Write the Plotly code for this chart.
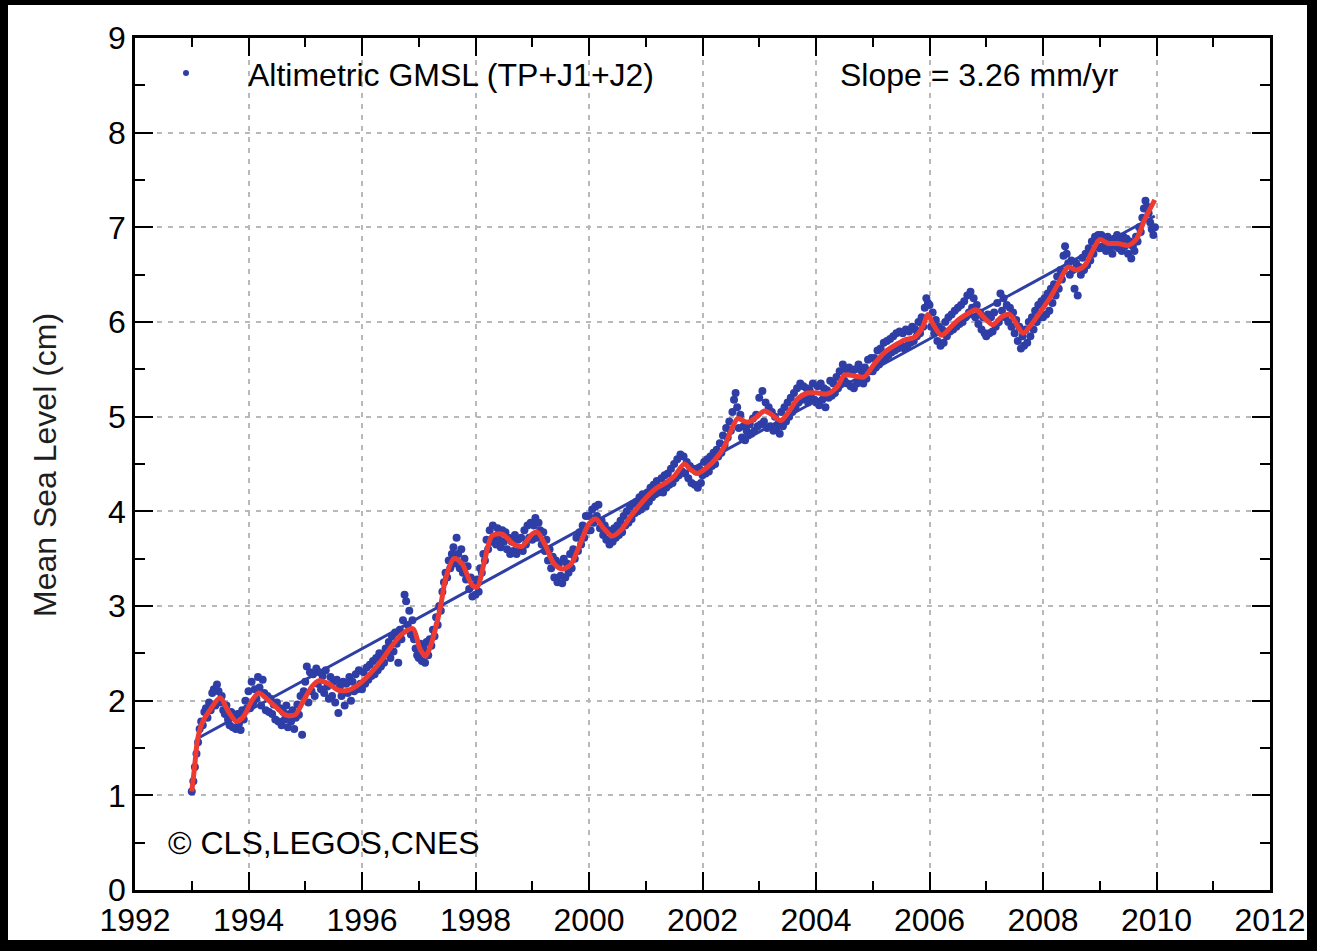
import plotly.graph_objects as go

# ---------------- data ----------------
# Altimetric GMSL, ~10-day values, 36 per year (cm)
gmsl_1993 = [1.04, 1.15, 1.30, 1.44, 1.56, 1.70, 1.78, 1.74, 1.88, 1.92, 1.82, 1.98, 1.90, 2.08, 2.12, 1.95, 2.17, 2.10,
             1.98, 2.05, 1.90, 1.86, 1.95, 1.80, 1.74, 1.88, 1.72, 1.83, 1.70, 1.86, 1.76, 1.69, 1.90, 1.80, 2.00, 1.92]
gmsl_1994 = [2.10, 1.92, 2.20, 1.98, 2.12, 2.02, 2.25, 2.14, 1.95, 2.22, 2.08, 1.90, 2.05, 1.88, 2.02, 1.86, 1.96, 1.80,
             1.98, 1.78, 1.92, 1.74, 1.88, 1.80, 1.95, 1.72, 1.86, 1.78, 1.90, 1.70, 1.82, 1.96, 1.85, 2.05, 1.64, 2.10]
gmsl_1995 = [2.20, 2.36, 1.98, 2.30, 2.10, 2.28, 2.05, 2.34, 2.18, 2.30, 2.12, 2.26, 2.08, 2.32, 2.15, 2.02, 2.25, 2.05,
             2.20, 1.98, 2.22, 1.87, 2.15, 2.05, 2.20, 1.95, 2.18, 2.08, 2.25, 2.00, 2.20, 2.10, 2.28, 2.12, 2.32, 2.18]
gmsl_1996 = [2.12, 2.30, 2.18, 2.35, 2.22, 2.38, 2.26, 2.42, 2.28, 2.45, 2.32, 2.50, 2.36, 2.48, 2.40, 2.55, 2.50, 2.62,
             2.45, 2.68, 2.52, 2.72, 2.60, 2.40, 2.75, 2.65, 2.85, 3.12, 3.05, 2.80, 2.95, 2.70, 2.85, 2.65, 2.55, 2.48]
gmsl_1997 = [2.45, 2.60, 2.42, 2.55, 2.40, 2.62, 2.48, 2.65, 2.58, 2.75, 2.68, 2.88, 2.80, 3.00, 2.95, 3.15, 3.25, 3.35,
             3.30, 3.48, 3.40, 3.55, 3.62, 3.45, 3.72, 3.55, 3.40, 3.60, 3.35, 3.50, 3.28, 3.42, 3.18, 3.30, 3.10, 3.22]
gmsl_1998 = [3.12, 3.28, 3.15, 3.40, 3.35, 3.55, 3.48, 3.70, 3.60, 3.80, 3.68, 3.85, 3.72, 3.65, 3.82, 3.70, 3.62, 3.80,
             3.68, 3.78, 3.60, 3.72, 3.55, 3.68, 3.58, 3.75, 3.55, 3.70, 3.60, 3.72, 3.58, 3.80, 3.65, 3.85, 3.72, 3.88]
gmsl_1999 = [3.70, 3.85, 3.93, 3.72, 3.88, 3.80, 3.65, 3.78, 3.58, 3.70, 3.48, 3.60, 3.40, 3.52, 3.30, 3.48, 3.25, 3.45,
             3.32, 3.24, 3.50, 3.30, 3.45, 3.35, 3.55, 3.40, 3.60, 3.50, 3.72, 3.58, 3.78, 3.65, 3.85, 3.72, 3.95, 3.80]
gmsl_2000 = [3.95, 3.80, 4.02, 3.88, 4.05, 3.95, 4.07, 3.82, 3.90, 3.75, 3.85, 3.70, 3.80, 3.65, 3.78, 3.68, 3.82, 3.72,
             3.85, 3.75, 3.90, 3.78, 3.95, 3.85, 4.00, 3.88, 4.05, 3.92, 4.08, 3.98, 4.10, 4.00, 4.15, 4.02, 4.18, 4.08]
gmsl_2001 = [4.05, 4.20, 4.10, 4.25, 4.15, 4.28, 4.18, 4.32, 4.20, 4.22, 4.35, 4.20, 4.38, 4.25, 4.40, 4.28, 4.45, 4.30,
             4.50, 4.35, 4.55, 4.38, 4.60, 4.42, 4.58, 4.40, 4.52, 4.35, 4.48, 4.30, 4.45, 4.28, 4.42, 4.25, 4.45, 4.30]
gmsl_2002 = [4.38, 4.52, 4.40, 4.55, 4.42, 4.58, 4.48, 4.62, 4.50, 4.65, 4.58, 4.72, 4.62, 4.80, 4.70, 4.88, 4.78, 4.95,
             4.85, 5.05, 5.18, 5.25, 5.10, 4.88, 5.02, 4.78, 4.90, 4.75, 4.85, 4.80, 4.92, 4.82, 4.98, 4.85, 5.02, 4.90]
gmsl_2003 = [5.20, 4.92, 5.27, 4.95, 5.15, 4.88, 5.10, 4.90, 5.05, 4.85, 5.00, 4.88, 4.92, 4.82, 5.05, 4.90, 5.10, 4.95,
             5.15, 5.00, 5.20, 5.05, 5.25, 5.10, 5.30, 5.15, 5.35, 5.18, 5.32, 5.20, 5.30, 5.15, 5.28, 5.20, 5.35, 5.18]
gmsl_2004 = [5.15, 5.32, 5.12, 5.35, 5.18, 5.30, 5.10, 5.28, 5.20, 5.38, 5.22, 5.35, 5.25, 5.42, 5.30, 5.48, 5.35, 5.55,
             5.38, 5.50, 5.35, 5.52, 5.32, 5.48, 5.30, 5.50, 5.35, 5.55, 5.38, 5.48, 5.35, 5.52, 5.40, 5.60, 5.48, 5.62]
gmsl_2005 = [5.48, 5.62, 5.52, 5.70, 5.55, 5.72, 5.60, 5.78, 5.62, 5.80, 5.65, 5.82, 5.68, 5.85, 5.70, 5.88, 5.72, 5.90,
             5.75, 5.88, 5.72, 5.92, 5.75, 5.90, 5.78, 5.95, 5.80, 5.92, 5.85, 6.00, 5.88, 6.05, 5.95, 6.15, 6.25, 6.20]
gmsl_2006 = [6.18, 5.95, 6.10, 5.88, 6.02, 5.80, 5.95, 5.75, 5.92, 5.78, 6.00, 5.85, 6.05, 5.90, 6.08, 5.92, 6.12, 5.95,
             6.15, 5.98, 6.18, 6.00, 6.22, 6.05, 6.28, 6.10, 6.32, 6.15, 6.25, 6.05, 6.18, 5.98, 6.10, 5.92, 6.05, 5.88]
gmsl_2007 = [5.85, 6.08, 5.88, 6.05, 5.90, 6.10, 5.95, 6.20, 6.00, 6.30, 6.12, 6.25, 6.05, 6.18, 6.00, 6.15, 5.95, 6.10,
             5.88, 6.02, 5.80, 5.95, 5.72, 5.85, 5.75, 5.92, 5.78, 6.00, 5.85, 6.05, 5.92, 6.12, 6.00, 6.18, 6.05, 6.22]
gmsl_2008 = [6.05, 6.25, 6.08, 6.30, 6.12, 6.35, 6.20, 6.40, 6.28, 6.48, 6.35, 6.55, 6.45, 6.70, 6.80, 6.72, 6.62, 6.50,
             6.65, 6.55, 6.35, 6.62, 6.28, 6.58, 6.50, 6.68, 6.55, 6.72, 6.60, 6.78, 6.65, 6.85, 6.72, 6.90, 6.80, 6.92]
gmsl_2009 = [6.78, 6.92, 6.80, 6.88, 6.75, 6.90, 6.78, 6.85, 6.72, 6.88, 6.80, 6.92, 6.78, 6.85, 6.75, 6.90, 6.80, 6.88,
             6.72, 6.85, 6.67, 6.80, 6.75, 6.90, 6.85, 7.00, 6.95, 7.10, 7.20, 7.28, 7.22, 7.15, 7.05, 6.98, 6.92, 7.00]

gmsl_years = [1993, 1994, 1995, 1996, 1997, 1998, 1999, 2000, 2001,
              2002, 2003, 2004, 2005, 2006, 2007, 2008, 2009]
gmsl_series = [gmsl_1993, gmsl_1994, gmsl_1995, gmsl_1996, gmsl_1997, gmsl_1998, gmsl_1999, gmsl_2000, gmsl_2001,
               gmsl_2002, gmsl_2003, gmsl_2004, gmsl_2005, gmsl_2006, gmsl_2007, gmsl_2008, gmsl_2009]

# Smoothed curve (red)
smooth_years = [1993.00, 1993.05, 1993.10, 1993.18, 1993.32, 1993.50, 1993.65, 1993.79, 1993.91, 1994.06,
                1994.18, 1994.32, 1994.47, 1994.65, 1994.82, 1994.97, 1995.12, 1995.24, 1995.41, 1995.59,
                1995.76, 1995.94, 1996.12, 1996.35, 1996.53, 1996.70, 1996.90, 1997.02, 1997.12, 1997.22,
                1997.32, 1997.40, 1997.47, 1997.62, 1997.76, 1997.94, 1998.03, 1998.15, 1998.29, 1998.47,
                1998.68, 1998.82, 1999.00, 1999.09, 1999.24, 1999.38, 1999.53, 1999.68, 1999.82, 2000.00,
                2000.12, 2000.26, 2000.41, 2000.56, 2000.74, 2000.97, 2001.18, 2001.35, 2001.50, 2001.68,
                2001.79, 2001.91, 2002.09, 2002.24, 2002.38, 2002.50, 2002.62, 2002.79, 2002.94, 2003.09,
                2003.20, 2003.38, 2003.53, 2003.68, 2003.85, 2004.03, 2004.20, 2004.38, 2004.50, 2004.68,
                2004.85, 2005.03, 2005.21, 2005.38, 2005.56, 2005.74, 2005.88, 2005.97, 2006.06, 2006.21,
                2006.35, 2006.50, 2006.68, 2006.82, 2006.97, 2007.12, 2007.26, 2007.41, 2007.56, 2007.65,
                2007.79, 2007.97, 2008.15, 2008.29, 2008.44, 2008.59, 2008.74, 2008.88, 2009.00, 2009.15,
                2009.32, 2009.50, 2009.65, 2009.79, 2009.97]
smooth_values = [1.04, 1.30, 1.58, 1.76, 1.90, 2.03, 1.88, 1.78, 1.83, 2.00,
                 2.08, 2.02, 1.94, 1.85, 1.85, 2.00, 2.15, 2.21, 2.18, 2.11,
                 2.11, 2.17, 2.27, 2.43, 2.58, 2.70, 2.76, 2.55, 2.47, 2.60,
                 2.82, 3.05, 3.28, 3.50, 3.45, 3.22, 3.20, 3.45, 3.74, 3.76,
                 3.65, 3.63, 3.76, 3.78, 3.63, 3.45, 3.39, 3.44, 3.62, 3.87,
                 3.92, 3.82, 3.74, 3.80, 3.95, 4.12, 4.24, 4.30, 4.37, 4.50,
                 4.44, 4.40, 4.47, 4.56, 4.68, 4.85, 4.98, 4.94, 4.99, 5.06,
                 5.03, 4.96, 5.06, 5.19, 5.25, 5.25, 5.24, 5.32, 5.44, 5.43,
                 5.42, 5.56, 5.68, 5.75, 5.81, 5.84, 5.95, 6.08, 5.98, 5.86,
                 5.93, 6.02, 6.09, 6.13, 6.04, 5.97, 6.05, 6.08, 5.95, 5.88,
                 5.97, 6.12, 6.28, 6.43, 6.58, 6.55, 6.60, 6.76, 6.87, 6.83,
                 6.83, 6.81, 6.88, 7.08, 7.29]

# Linear trend (3.26 mm/yr)
trend_years = [1993.10, 2009.97]
trend_values = [1.60, 7.12]

x_tick_values = [1992, 1994, 1996, 1998, 2000, 2002, 2004, 2006, 2008, 2010, 2012]
y_tick_values = [0, 1, 2, 3, 4, 5, 6, 7, 8, 9]

legend_label = "Altimetric GMSL (TP+J1+J2)"
slope_label = "Slope = 3.26 mm/yr"
credit_label = "CLS,LEGOS,CNES"
y_title = "Mean Sea Level (cm)"

# ---------------- figure ----------------
DOT = "rgb(46,62,166)"
RED = "rgb(238,58,48)"
FONT = "Liberation Sans, Arial, Helvetica, sans-serif"
FS = 32

dot_x, dot_y = [], []
for yr, vals in zip(gmsl_years, gmsl_series):
    n = len(vals)
    for k, v in enumerate(vals):
        dot_x.append(yr + k / n)
        dot_y.append(v)

fig = go.Figure()
fig.add_trace(go.Scatter(x=dot_x, y=dot_y, mode="markers",
                         marker=dict(size=8, color=DOT), showlegend=False))
fig.add_trace(go.Scatter(x=trend_years, y=trend_values, mode="lines",
                         line=dict(color=DOT, width=3), showlegend=False))
fig.add_trace(go.Scatter(x=smooth_years, y=smooth_values, mode="lines",
                         line=dict(color=RED, width=5, shape="spline", smoothing=0.8),
                         showlegend=False))

axis_common = dict(
    showline=True, linecolor="black", linewidth=2.5, mirror="ticks",
    ticks="inside", tickcolor="black", tickwidth=2, ticklen=18,
    showgrid=True, gridcolor="rgb(185,185,185)", gridwidth=1.5, griddash="5px,6px",
    zeroline=False,
    tickfont=dict(family=FONT, size=FS, color="black"),
)

fig.update_xaxes(range=[1992, 2012], tickvals=x_tick_values,
                 ticktext=[str(v) for v in x_tick_values],
                 minor=dict(dtick=1, tick0=1992, ticks="inside", ticklen=9,
                            tickwidth=2, tickcolor="black", showgrid=False),
                 **axis_common)
fig.update_yaxes(range=[0, 9], tickvals=y_tick_values,
                 ticktext=[str(v) for v in y_tick_values],
                 minor=dict(dtick=0.5, tick0=0, ticks="inside", ticklen=10,
                            tickwidth=2, tickcolor="black", showgrid=False),
                 **axis_common)

L, R, T, B = 135, 47, 38, 61
W, H = 1317, 951
pw, ph = W - L - R, H - T - B


def px_x(px):
    return (px - L) / pw


def px_y(py):
    return (H - B - py) / ph


shapes = [
    # white page inside the black frame
    dict(type="rect", xref="paper", yref="paper", layer="below",
         x0=px_x(8), x1=px_x(1307), y0=px_y(940), y1=px_y(5),
         fillcolor="white", line=dict(width=0)),
    # legend key dot
    dict(type="circle", xref="paper", yref="paper",
         x0=px_x(183), x1=px_x(189), y0=px_y(76), y1=px_y(70),
         fillcolor=DOT, line=dict(width=0)),
]

annotations = [
    dict(text=legend_label, xref="paper", yref="paper", x=px_x(246), y=px_y(75),
         xanchor="left", yanchor="middle", showarrow=False,
         font=dict(family=FONT, size=FS, color="black")),
    dict(text=slope_label, xref="paper", yref="paper", x=px_x(838), y=px_y(75),
         xanchor="left", yanchor="middle", showarrow=False,
         font=dict(family=FONT, size=FS, color="black")),
    dict(text="\u00a9 " + credit_label, xref="paper", yref="paper", x=px_x(166), y=px_y(843),
         xanchor="left", yanchor="middle", showarrow=False,
         font=dict(family=FONT, size=FS, color="black")),
    dict(text=y_title, xref="paper", yref="paper", x=px_x(45), y=px_y(465),
         xanchor="center", yanchor="middle", textangle=-90, showarrow=False,
         font=dict(family=FONT, size=FS, color="rgb(30,30,30)")),
]

fig.update_layout(
    width=W, height=H,
    margin=dict(l=L, r=R, t=T, b=B, pad=0),
    paper_bgcolor="black", plot_bgcolor="white",
    shapes=shapes, annotations=annotations,
    showlegend=False,
)

fig.write_html(
    "out.html",
    config={"displayModeBar": False},
    post_script="document.body.style.margin='0';document.body.style.background='black';",
)
